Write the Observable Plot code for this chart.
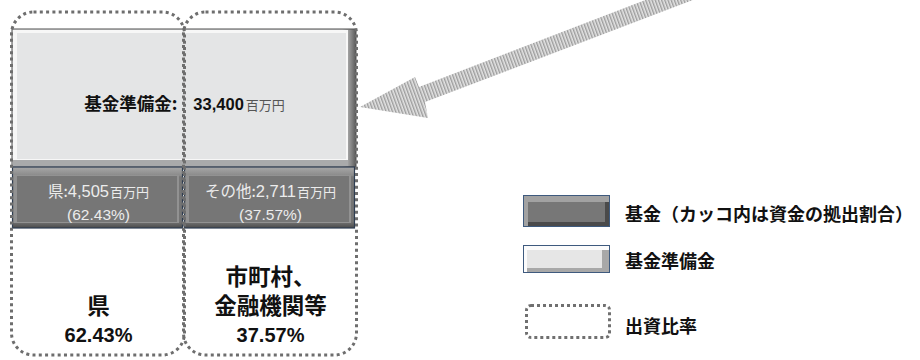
<!DOCTYPE html>
<html>
<head>
<meta charset="utf-8">
<script src="https://cdn.jsdelivr.net/npm/d3@7"></script>
<script src="https://cdn.jsdelivr.net/npm/@observablehq/plot@0.6"></script>
<style>
  html, body { margin: 0; padding: 0; background: #fff; }
  #wrap { position: relative; width: 920px; height: 360px; overflow: hidden; font-family: "Noto Sans CJK JP", sans-serif; }
  #chart { position: absolute; left: 0; top: 0; }
  .sw { position: absolute; box-sizing: border-box; }
  .lbl { position: absolute; font-size: 18px; font-weight: bold; color: #111; white-space: nowrap; height: 28px; line-height: 28px; }
</style>
</head>
<body>
<div id="wrap"><div id="chart"></div><div id="legend"></div></div>
<script>
// ---------- data ----------
const investors   = ["県", "その他"];          // fund contributors
const fundValues  = [4505, 2711];              // 基金 (百万円)
const fundShares  = [62.43, 37.57];            // 拠出割合 (%)
const reserveLabel = "基金準備金";
const reserveValue = 33400;                    // 百万円
const unitLabel   = "百万円";
const shareNames  = [["県"], ["市町村、", "金融機関等"]];
const shareRates  = [62.43, 37.57];            // 出資比率 (%)
const legendLabels = ["基金（カッコ内は資金の拠出割合）", "基金準備金", "出資比率"];

// ---------- layout (pixel geometry of the diagram, not data) ----------
const layout = {
  frameTop: 12, reserveTop: 29, fundTop: 167, fundBottom: 228, frameBottom: 355,
  reserveTextY: 104, fundLine1Y: 192, fundLine2Y: 215, shareLastY: 335, shareLineGap: 29
};
const arrowShape = [[360,107],[415,77],[419,87],[700,-21],[706,-5],[425,102],[428,118]];
const legendLayout = [
  {kind: "dark",   left: 523, top: 195, w: 87, h: 32, cy: 213},
  {kind: "light",  left: 523, top: 245, w: 87, h: 28, cy: 260},
  {kind: "dotted", left: 525, top: 304, w: 86, h: 35, cy: 325}
];

const fmt = d3.format(",");
const idx = d3.range(investors.length);
const SVGNS = "http://www.w3.org/2000/svg";
const latin = "'Liberation Sans', 'Noto Sans CJK JP', sans-serif";
const cjk = "'Noto Sans CJK JP', sans-serif";

const shareRows = idx.flatMap(i => {
  const lines = [...shareNames[i].map(t => ({t, kind: "name"})),
                 {t: shareRates[i].toFixed(2) + "%", kind: "pct"}];
  return lines.map((l, j) => ({
    investor: investors[i], text: l.t, kind: l.kind,
    y: layout.shareLastY - (lines.length - 1 - j) * layout.shareLineGap
  }));
});

// defs (hatch pattern for arrow, bevel gradients)
const defsMark = () => {
  const defs = document.createElementNS(SVGNS, "defs");
  defs.innerHTML = `
    <pattern id="hatch" patternUnits="userSpaceOnUse" width="3" height="3" patternTransform="rotate(-20)">
      <rect width="3" height="3" fill="#e4e4e4"></rect>
      <rect width="1.4" height="3" fill="#9c9c9c"></rect>
    </pattern>
    <linearGradient id="lightRight" x1="0" x2="1" y1="0" y2="0">
      <stop offset="0" stop-color="#e4e5e6"></stop>
      <stop offset="0.96" stop-color="#d2d3d4"></stop>
      <stop offset="0.985" stop-color="#8a8a8a"></stop>
      <stop offset="1" stop-color="#5a5a5a"></stop>
    </linearGradient>
    <linearGradient id="darkTop" x1="0" x2="0" y1="0" y2="1">
      <stop offset="0" stop-color="#a8a8a8"></stop>
      <stop offset="0.14" stop-color="#8a8a8a"></stop>
      <stop offset="0.16" stop-color="#777"></stop>
      <stop offset="0.9" stop-color="#737373"></stop>
      <stop offset="1" stop-color="#4a4a4a"></stop>
    </linearGradient>`;
  return defs;
};
const arrowMark = () => {
  const p = document.createElementNS(SVGNS, "path");
  p.setAttribute("d", "M" + arrowShape.map(d => d.join(",")).join("L") + "Z");
  p.setAttribute("fill", "url(#hatch)");
  return p;
};

const plot = Plot.plot({
  width: 920, height: 360,
  marginLeft: 12, marginRight: 564, marginTop: 0, marginBottom: 0,
  x: {type: "band", domain: investors, padding: 0, axis: null},
  y: {domain: [0, 360], range: [0, 360], axis: null},
  style: {background: "transparent", overflow: "visible"},
  marks: [
    defsMark,
    arrowMark,
    // 基金準備金 box (spans both contributors)
    Plot.rect([{v: reserveValue}], {y1: layout.reserveTop, y2: layout.fundTop, fill: "url(#lightRight)", stroke: "#505050", strokeWidth: 1}),
    Plot.rect([{v: reserveValue}], {y1: layout.reserveTop, y2: layout.fundTop, fill: "#f7f7f7", insetTop: 1, insetLeft: 1, insetRight: 8, insetBottom: 5}),
    Plot.rect([{v: reserveValue}], {y1: layout.reserveTop, y2: layout.fundTop, fill: "#a9aaab", insetTop: 131, insetLeft: 1, insetRight: 8, insetBottom: 1}),
    Plot.rect([{v: reserveValue}], {y1: layout.reserveTop, y2: layout.fundTop, fill: "#e4e5e6", insetTop: 4, insetLeft: 5, insetRight: 10, insetBottom: 8}),
    // 基金 boxes
    Plot.barY(idx, {x: i => investors[i], y1: layout.fundTop, y2: layout.fundBottom, fill: "url(#darkTop)", stroke: "#2e3d52", strokeWidth: 1.2, insetLeft: 0.5, insetRight: 1.5}),
    Plot.barY(idx, {x: i => investors[i], y1: layout.fundTop, y2: layout.fundBottom, fill: "#929292", insetLeft: 1.5, insetRight: 5, insetTop: 8, insetBottom: 5}),
    Plot.barY(idx, {x: i => investors[i], y1: layout.fundTop, y2: layout.fundBottom, fill: "#767676", insetLeft: 5, insetRight: 7, insetTop: 9, insetBottom: 6}),
    // 出資比率 dotted frames
    Plot.barY(idx, {x: i => investors[i], y1: layout.frameTop, y2: layout.frameBottom, fill: "none", stroke: "#6e6e6e", strokeWidth: 3, strokeDasharray: "3 3.3", rx: 22, insetLeft: -0.5, insetRight: -0.5}),
    // texts
    Plot.text([{v: reserveValue}], {y: layout.reserveTextY, text: d => `${reserveLabel}:${fmt(d.v)}${unitLabel}`, fontFamily: latin, fontSize: 16, fontWeight: "bold", fill: "#111"}),
    Plot.text(idx, {x: i => investors[i], y: layout.fundLine1Y, text: i => `${investors[i]}:${fmt(fundValues[i])}${unitLabel}`, fontFamily: latin, fontSize: 15, fill: "#ececec"}),
    Plot.text(idx, {x: i => investors[i], y: layout.fundLine2Y, text: i => `(${fundShares[i].toFixed(2)}%)`, fontFamily: latin, fontSize: 15.5, fill: "#ececec"}),
    Plot.text(shareRows.filter(d => d.kind === "name"), {x: "investor", y: "y", text: "text", fontFamily: cjk, fontSize: 22.5, fontWeight: "bold", fill: "#111"}),
    Plot.text(shareRows.filter(d => d.kind === "pct"), {x: "investor", y: "y", text: "text", fontFamily: latin, fontSize: 20, fontWeight: "bold", fill: "#111"})
  ]
});

// mixed-size runs inside text labels
function setRuns(el, parts) {
  el.textContent = "";
  for (const p of parts) {
    const ts = document.createElementNS(SVGNS, "tspan");
    ts.textContent = p.t;
    if (p.size) ts.setAttribute("font-size", p.size);
    if (p.weight) ts.setAttribute("font-weight", p.weight);
    if (p.fill) ts.setAttribute("fill", p.fill);
    if (p.dx) ts.setAttribute("dx", p.dx);
    if (p.family) ts.setAttribute("font-family", p.family);
    el.appendChild(ts);
  }
}
d3.select(plot).selectAll("text").each(function () {
  const s = this.textContent;
  const m = s.match(/^(.+?:)([\d,]+)(百万円)$/);
  if (!m) return;
  if (m[1] === reserveLabel + ":") {
    setRuns(this, [
      {t: m[1], size: 17.5, weight: "bold", family: cjk},
      {t: m[2], size: 16.5, weight: "bold", dx: 16},
      {t: m[3], size: 13, weight: "normal", fill: "#555", dx: 2, family: cjk}
    ]);
  } else {
    setRuns(this, [
      {t: m[1], size: 15.5, family: cjk},
      {t: m[2], size: 16.5},
      {t: m[3], size: 13, dx: 1, family: cjk}
    ]);
  }
});
document.getElementById("chart").appendChild(plot);

// ---------- legend ----------
const legend = document.getElementById("legend");
const swatchStyle = {
  dark:   "background:#777;border:1.5px solid #3e5a7e;box-shadow:inset 4px 6px 0 #a2a2a2, inset -4px -4px 0 #4a4a4a;",
  light:  "background:#e6e6e6;border:1.5px solid #3e5a7e;box-shadow:inset 3px 4px 0 #fbfbfb, inset -7px -4px 0 #a8a8a8;",
  dotted: "background:#fff;border:3px dotted #707070;border-radius:6px;"
};
legendLabels.forEach((label, i) => {
  const L = legendLayout[i];
  const sw = document.createElement("div");
  sw.className = "sw";
  sw.style.cssText = `left:${L.left}px;top:${L.top}px;width:${L.w}px;height:${L.h}px;` + swatchStyle[L.kind];
  legend.appendChild(sw);
  const tx = document.createElement("div");
  tx.className = "lbl";
  tx.style.left = "625px";
  tx.style.top = (L.cy - 14) + "px";
  tx.textContent = label;
  legend.appendChild(tx);
});
</script>
</body>
</html>
